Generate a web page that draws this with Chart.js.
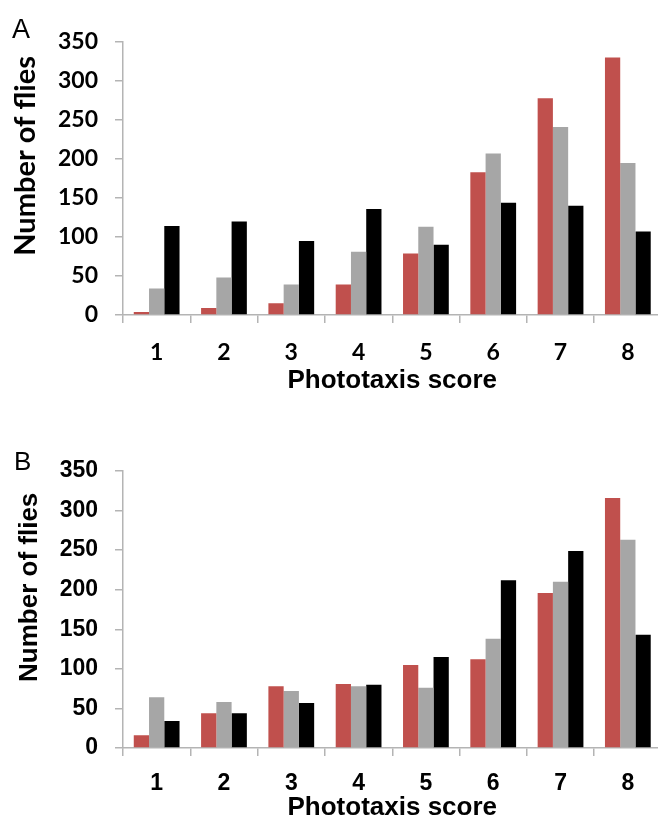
<!DOCTYPE html>
<html>
<head>
<meta charset="utf-8">
<script src="https://cdn.jsdelivr.net/npm/chart.js@4.4.1/dist/chart.umd.min.js"></script>
<style>
html, body { margin: 0; padding: 0; background: #fff; overflow: hidden; width: 658px; height: 827px; }
canvas { position: absolute; left: 0; }
#chartA { top: 0; }
#chartB { top: 400px; }
.panel { position: absolute; font-family: "Liberation Sans", Arial, sans-serif; color: #000; }
</style>
</head>
<body>
<canvas id="chartA" width="668" height="400"></canvas>
<canvas id="chartB" width="668" height="427"></canvas>
<div class="panel" style="left:12px; top:14px; font-size:27px;">A</div>
<div class="panel" style="left:14px; top:446px; font-size:26px;">B</div>
<script>
var scores = ['1', '2', '3', '4', '5', '6', '7', '8'];
var yMax = 350, yStep = 50;

// panel A
var redA   = [4, 9, 15, 39, 79, 183, 278, 330];
var greyA  = [34, 48, 39, 81, 113, 207, 241, 195];
var blackA = [114, 120, 95, 136, 90, 144, 140, 107];

// panel B
var redB   = [16, 44, 78, 81, 105, 112, 196, 316];
var greyB  = [64, 58, 72, 78, 76, 138, 210, 263];
var blackB = [34, 44, 57, 80, 115, 212, 249, 143];

var colors = ['#C0504D', '#A6A6A6', '#000000'];
var axisColor = '#B4B4B4';

function makeChart(id, series, cfg) {
    var ctx = document.getElementById(id).getContext('2d');
    return new Chart(ctx, {
        type: 'bar',
        data: {
            labels: scores,
            datasets: series.map(function (s, i) {
                return {
                    data: s,
                    backgroundColor: colors[i],
                    borderWidth: 0,
                    categoryPercentage: 0.68,
                    barPercentage: 1.0
                };
            })
        },
        options: {
            responsive: false,
            animation: false,
            devicePixelRatio: 1,
            layout: { padding: { left: 0, top: cfg.top, right: 6.5, bottom: 0 } },
            plugins: { legend: { display: false }, tooltip: { enabled: false } },
            scales: {
                x: {
                    afterFit: function (scale) { scale.height = cfg.xHeight; },
                    grid: { drawOnChartArea: false, drawTicks: true, tickLength: 8, color: axisColor, lineWidth: 1.5 },
                    border: { display: true, color: axisColor, width: 1.5 },
                    ticks: { color: '#000', padding: cfg.xTickPad, font: cfg.tickFont },
                    title: {
                        display: true, text: 'Phototaxis score', color: '#000',
                        font: { family: '"Liberation Sans", Arial, sans-serif', size: 26, weight: 'bold' },
                        padding: { top: 0, bottom: cfg.xTitlePad }
                    }
                },
                y: {
                    min: 0, max: yMax,
                    afterFit: function (scale) { scale.width = 123; },
                    grid: { drawOnChartArea: false, drawTicks: true, tickLength: 8, color: axisColor, lineWidth: 1.5 },
                    border: { display: true, color: axisColor, width: 1.5 },
                    ticks: { stepSize: yStep, color: '#000', padding: 17, font: cfg.tickFont },
                    title: {
                        display: true, text: cfg.yTitle, color: '#000', align: 'end',
                        font: cfg.yTitleFont,
                        padding: { top: cfg.yTitlePad, bottom: 0 }
                    }
                }
            }
        }
    });
}

// trailing spaces push the end-aligned title a little below the top of the axis
makeChart('chartA', [redA, greyA, blackA], {
    top: 42, xHeight: 85, xTickPad: 16, xTitlePad: 4,
    yTitle: 'Number of flies  ', yTitlePad: 8,
    tickFont: { family: 'Lato, "Open Sans", sans-serif', size: 23, weight: 'bold' },
    yTitleFont: { family: 'Lato, "Open Sans", sans-serif', size: 29, weight: 'bold' }
});

makeChart('chartB', [redB, greyB, blackB], {
    top: 71, xHeight: 79, xTickPad: 14, xTitlePad: 4,
    yTitle: 'Number of flies   ', yTitlePad: 14,
    tickFont: { family: '"Liberation Sans", Arial, sans-serif', size: 23, weight: 'bold' },
    yTitleFont: { family: '"Liberation Sans", Arial, sans-serif', size: 26, weight: 'bold' }
});
</script>
</body>
</html>
